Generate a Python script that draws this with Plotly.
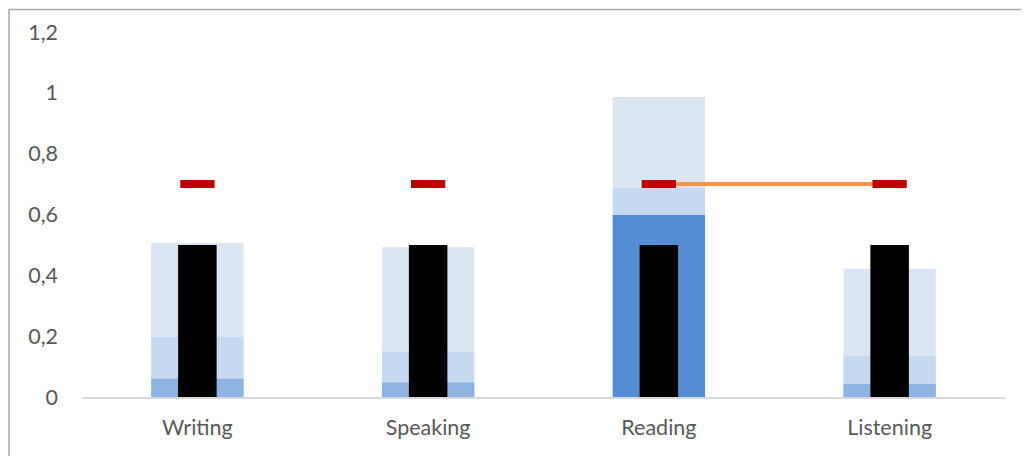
import plotly.graph_objects as go

skills = ['Writing', 'Speaking', 'Reading', 'Listening']
range_high = [0.507, 0.492, 0.986, 0.422]
range_mid = [0.197, 0.149, 0.688, 0.136]
range_low = [0.060, 0.048, 0.598, 0.043]
actual = [0.5, 0.5, 0.5, 0.5]
target = [0.7, 0.7, 0.7, 0.7]
link = [None, None, 0.7, 0.7]

low_colors = ['#8EB4E3', '#8EB4E3', '#558ED5', '#8EB4E3']

fig = go.Figure()
fig.add_trace(go.Bar(x=skills, y=range_high, width=0.4, marker=dict(color='#DCE6F2', line_width=0)))
fig.add_trace(go.Bar(x=skills, y=range_mid, width=0.4, marker=dict(color='#C6D9F1', line_width=0)))
fig.add_trace(go.Bar(x=skills, y=range_low, width=0.4, marker=dict(color=low_colors, line_width=0)))
fig.add_trace(go.Bar(x=skills, y=actual, width=0.167, marker=dict(color='#000000', line_width=0)))
fig.add_trace(go.Scatter(x=skills, y=link, mode='lines', line=dict(color='#F79646', width=4),
                         connectgaps=False))
fig.add_trace(go.Scatter(x=skills, y=target, mode='markers',
                         marker=dict(symbol='line-ew', size=24.5,
                                     line=dict(color='#C00000', width=8))))

# page body has an 8px margin, so the figure is offset by 8px
fig.update_layout(
    width=1029, height=456,
    barmode='overlay',
    showlegend=False,
    separators=', ',
    paper_bgcolor='white', plot_bgcolor='white',
    margin=dict(l=73.5, r=32, t=23.5, b=66.5),
    font=dict(family='Lato, Liberation Sans, sans-serif', size=21.5, color='#595959'),
    shapes=[dict(type='rect', xref='paper', yref='paper',
                 x0=-73 / 923.5, x1=1.1, y0=-0.3, y1=388.5 / 366,
                 line=dict(color='#A6A6A6', width=1.5), fillcolor='rgba(0,0,0,0)', layer='below')],
)
fig.update_xaxes(showline=True, linecolor='#D9D9D9', linewidth=2, showgrid=False,
                 ticks='', ticklabelstandoff=10)
fig.update_yaxes(range=[0, 1.2], dtick=0.2, showgrid=False, zeroline=False,
                 showline=False, ticklabelstandoff=23)

fig.write_html("out.html")
